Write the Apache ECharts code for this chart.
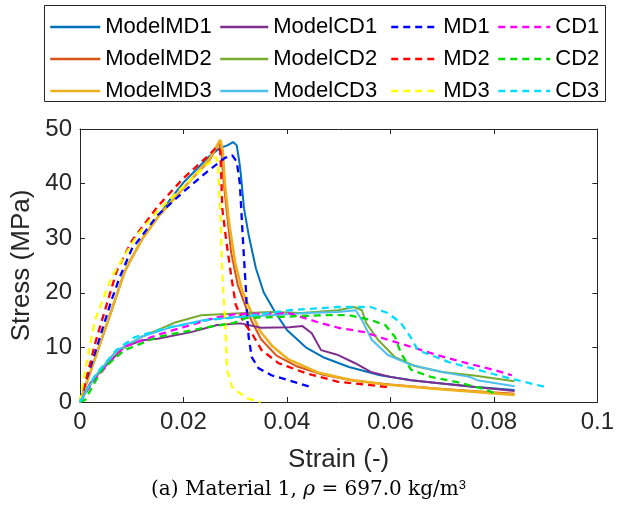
<!DOCTYPE html>
<html><head><meta charset="utf-8">
<script src="https://cdn.jsdelivr.net/npm/echarts@6/dist/echarts.min.js"></script>
<style>html,body{margin:0;padding:0;background:#fff}#c{width:617px;height:520px}</style>
</head><body><div id="c"></div>
<script>
// ---- data (strain, stress) ----
const modelMD1 = [[0,0],[0.002,5.5],[0.004,11],[0.006,16.5],[0.0086,23.8],[0.0095,25.5],[0.012,29.8],[0.015,33.8],[0.0175,37.2],[0.02,40.2],[0.025,45],[0.027,46.5],[0.0285,47],[0.0296,47.6],[0.0303,47],[0.0308,44],[0.0311,41.6],[0.0317,35.5],[0.0326,30.6],[0.034,24.5],[0.0355,20.1],[0.0378,16.3],[0.04,13.2],[0.0438,9.9],[0.047,8.2],[0.052,6.4],[0.058,4.9],[0.064,4.0],[0.069,3.5],[0.076,2.8],[0.084,2.2]];
const modelMD2 = [[0,0],[0.002,5.5],[0.004,11],[0.006,16.5],[0.0086,23.8],[0.0095,25.5],[0.012,29.8],[0.015,33.8],[0.02,39.2],[0.025,44.2],[0.0265,46.8],[0.027,47.3],[0.0274,45],[0.0278,40],[0.0283,35.5],[0.0292,27.5],[0.0305,21.4],[0.0324,16.5],[0.0332,14.8],[0.035,11.5],[0.038,8.5],[0.042,6.5],[0.047,5.0],[0.053,3.9],[0.06,3.2],[0.07,2.4],[0.084,1.5]];
const modelMD3 = [[0,0],[0.002,5.5],[0.004,11],[0.006,16.5],[0.0086,23.8],[0.0095,25.5],[0.012,29.8],[0.015,33.8],[0.02,39.2],[0.025,44.5],[0.0271,48.0],[0.0276,46],[0.028,40],[0.0288,33],[0.03,25.5],[0.0313,20.5],[0.0333,16],[0.0348,13],[0.0372,10.2],[0.0403,7.8],[0.046,5.4],[0.052,4.1],[0.059,3.2],[0.069,2.4],[0.084,1.3]];
const modelCD1 = [[0,0],[0.002,3.5],[0.0048,6.5],[0.0086,10.1],[0.012,11.3],[0.015,11.6],[0.0215,12.8],[0.0265,14.1],[0.0311,14.4],[0.035,13.6],[0.0405,13.7],[0.043,13.9],[0.0448,12.6],[0.0466,9.5],[0.0499,8.6],[0.0532,7.1],[0.0562,5.5],[0.06,4.6],[0.064,4.0],[0.069,3.5],[0.076,2.8],[0.084,2.0]];
const modelCD2 = [[0,0],[0.0029,4.6],[0.0067,9.0],[0.0119,11.9],[0.0182,14.5],[0.0234,15.9],[0.03,16.2],[0.0371,16.5],[0.0428,16.3],[0.0499,16.8],[0.053,17.4],[0.0545,16.8],[0.0553,14.5],[0.0576,11.4],[0.0609,8.2],[0.0647,6.6],[0.07,5.5],[0.0765,4.8],[0.084,3.8]];
const modelCD3 = [[0,0],[0.003,4.8],[0.007,9.3],[0.012,12],[0.018,13.8],[0.024,15],[0.0307,15.6],[0.037,15.9],[0.0437,16.3],[0.0499,16.5],[0.0533,16.8],[0.0545,15],[0.0564,11.4],[0.0595,8.6],[0.064,6.8],[0.07,5.5],[0.0753,4.6],[0.0768,4.0],[0.084,2.9]];
const expMD1 = [[0,0],[0.0004,1.6],[0.0029,9],[0.0061,18.7],[0.0077,22.9],[0.01,28],[0.015,34.2],[0.02,38.5],[0.025,42.5],[0.028,44.7],[0.0294,45.2],[0.0303,44],[0.0309,40],[0.0313,33],[0.0317,26.4],[0.0321,20.1],[0.0323,15.9],[0.0326,11.9],[0.0332,8.2],[0.0345,6.2],[0.037,4.9],[0.0403,4.0],[0.0447,2.7]];
const expMD2 = [[0,0],[0.0005,1.5],[0.003,11],[0.0071,24],[0.01,29.5],[0.015,35.8],[0.02,41],[0.025,45.3],[0.0265,46.8],[0.0271,46],[0.0273,41.6],[0.0275,35.5],[0.0283,29.3],[0.0292,23.3],[0.0301,17.8],[0.0317,14.5],[0.0332,12.6],[0.0351,9.5],[0.0384,7.1],[0.0436,5.3],[0.0499,3.7],[0.0562,3.1],[0.0595,2.7]];
const expMD3 = [[0,0],[0.001,5.9],[0.0029,15],[0.0061,22.9],[0.0111,30.6],[0.015,35],[0.02,39.5],[0.024,43],[0.0259,44.5],[0.0263,44.9],[0.0267,43],[0.0269,38.5],[0.0272,32.4],[0.0274,26.4],[0.0277,20.1],[0.0280,15.9],[0.0282,11.9],[0.0284,5.9],[0.0294,2.7],[0.0322,0.7],[0.0349,0]];
const expCD1 = [[0,0],[0.002,3],[0.005,6.5],[0.0086,10.1],[0.015,12.3],[0.02,13.7],[0.0259,15.4],[0.03,16.1],[0.0403,16.3],[0.0457,14.7],[0.0499,13.6],[0.055,12.8],[0.0595,11.4],[0.0647,9.9],[0.069,8.6],[0.0744,7.2],[0.0803,5.8],[0.0835,4.9]];
const expCD2 = [[0,0],[0.001,0.4],[0.0042,5.9],[0.0086,9.5],[0.015,11.9],[0.0246,13.7],[0.0298,14.5],[0.0321,15.4],[0.039,15.6],[0.0468,15.9],[0.052,15.9],[0.0563,15],[0.059,14.1],[0.0609,11.9],[0.062,9],[0.064,5.9],[0.0678,4.6],[0.0736,3.5],[0.0787,2.2],[0.08,1.6]];
const expCD3 = [[0,0],[0.003,5],[0.007,9.5],[0.0106,11.9],[0.0169,13.6],[0.0246,15],[0.0311,15.6],[0.0403,16.8],[0.0499,17.4],[0.0562,17.4],[0.0595,16.3],[0.062,14.5],[0.0639,11.9],[0.0653,9.5],[0.0689,8.2],[0.0713,7.3],[0.0768,5.9],[0.0845,4.0],[0.0906,2.6]];

const seriesNames = ['ModelMD1','ModelMD2','ModelMD3','ModelCD1','ModelCD2','ModelCD3','MD1','MD2','MD3','CD1','CD2','CD3'];
const seriesData = [modelMD1, modelMD2, modelMD3, modelCD1, modelCD2, modelCD3, expMD1, expMD2, expMD3, expCD1, expCD2, expCD3];
const xTicks = [0, 0.02, 0.04, 0.06, 0.08, 0.1];
const yTicks = [0, 10, 20, 30, 40, 50];
const xName = 'Strain (-)';
const yName = 'Stress (MPa)';

// ---- styles ----
const colors = ['#0072BD','#D95319','#EDB120','#7E2F8E','#77AC30','#4DBEEE','#0000FF','#FF0000','#FFFF00','#FF00FF','#00DD00','#00DDFF'];
const widths = [2,2,2.6,2,2,2,2.3,2.3,2.3,2.3,2.3,2.3];
const dashed = [false,false,false,false,false,false,true,true,true,true,true,true];
const FONT = 'Liberation Sans, Arial, sans-serif';
const AX = '#262626';

const chart = echarts.init(document.getElementById('c'), null, {renderer:'canvas'});
const xStep = xTicks[1]-xTicks[0], yStep = yTicks[1]-yTicks[0];
const fmt = v => String(parseFloat(v.toFixed(4)));

function axisCommon(showLabel){
  return {
    axisLine:{show:true, onZero:false, lineStyle:{color:AX, width:1}},
    axisTick:{show:true, inside:true, length:5, lineStyle:{color:AX}},
    splitLine:{show:false},
    axisLabel:{show:showLabel, color:AX, fontFamily:FONT, fontSize:24, formatter:fmt}
  };
}

const series = seriesNames.map((n,i)=>({
  name:n, type:'line', xAxisIndex:0, yAxisIndex:0, data:seriesData[i],
  symbol:'none', showSymbol:false, silent:true, smooth:false,
  lineStyle:{color:colors[i], width:widths[i], type: dashed[i] ? [7,5] : 'solid'},
  itemStyle:{color:colors[i]}, z: 2 + i
}));

const legendLeft = [44, 214, 385, 492];
const legendW = [50, 48, 47, 52];
const legends = [0,1,2,3].map(c=>({
  orient:'vertical', left:legendLeft[c], top:11, itemGap:10,
  itemWidth:legendW[c], itemHeight:14, selectedMode:false,
  data: seriesNames.slice(c*3, c*3+3),
  itemStyle:{opacity:0, borderWidth:0},
  lineStyle:{width:2.5},
  textStyle:{fontFamily:FONT, fontSize:22, color:'#000'}
}));

chart.setOption({
  animation:false,
  backgroundColor:'#fff',
  grid:{left:80, right:16, top:129, bottom:118, containLabel:false},
  legend: legends,
  xAxis:[
    Object.assign(axisCommon(true), {type:'value', position:'bottom', min:xTicks[0], max:xTicks[xTicks.length-1], interval:xStep,
      name:xName, nameLocation:'middle', nameGap:45, nameTextStyle:{fontFamily:FONT, fontSize:26, color:AX}}),
    Object.assign(axisCommon(false), {type:'value', position:'top', min:xTicks[0], max:xTicks[xTicks.length-1], interval:xStep})
  ],
  yAxis:[
    Object.assign(axisCommon(true), {type:'value', position:'left', min:yTicks[0], max:yTicks[yTicks.length-1], interval:yStep,
      name:yName, nameLocation:'middle', nameGap:45, nameTextStyle:{fontFamily:FONT, fontSize:26, color:AX}}),
    Object.assign(axisCommon(false), {type:'value', position:'right', min:yTicks[0], max:yTicks[yTicks.length-1], interval:yStep})
  ],
  graphic:[
    {type:'rect', left:42, top:3, shape:{width:561, height:96}, style:{fill:'none', stroke:AX, lineWidth:1}, z:-1, silent:true},
    {type:'text', left:'center', top:479, style:{
      text:'(a) Material 1, {i|ρ} = 697.0 kg/m{s|3}',
      fontFamily:'DejaVu Serif, Liberation Serif, serif', fontSize:20, fill:'#000',
      rich:{ i:{fontStyle:'italic', fontFamily:'DejaVu Serif, serif', fontSize:20}, s:{fontSize:13, verticalAlign:'top', padding:[0,0,9,0]} }
    }}
  ],
  series: series
});
</script></body></html>
